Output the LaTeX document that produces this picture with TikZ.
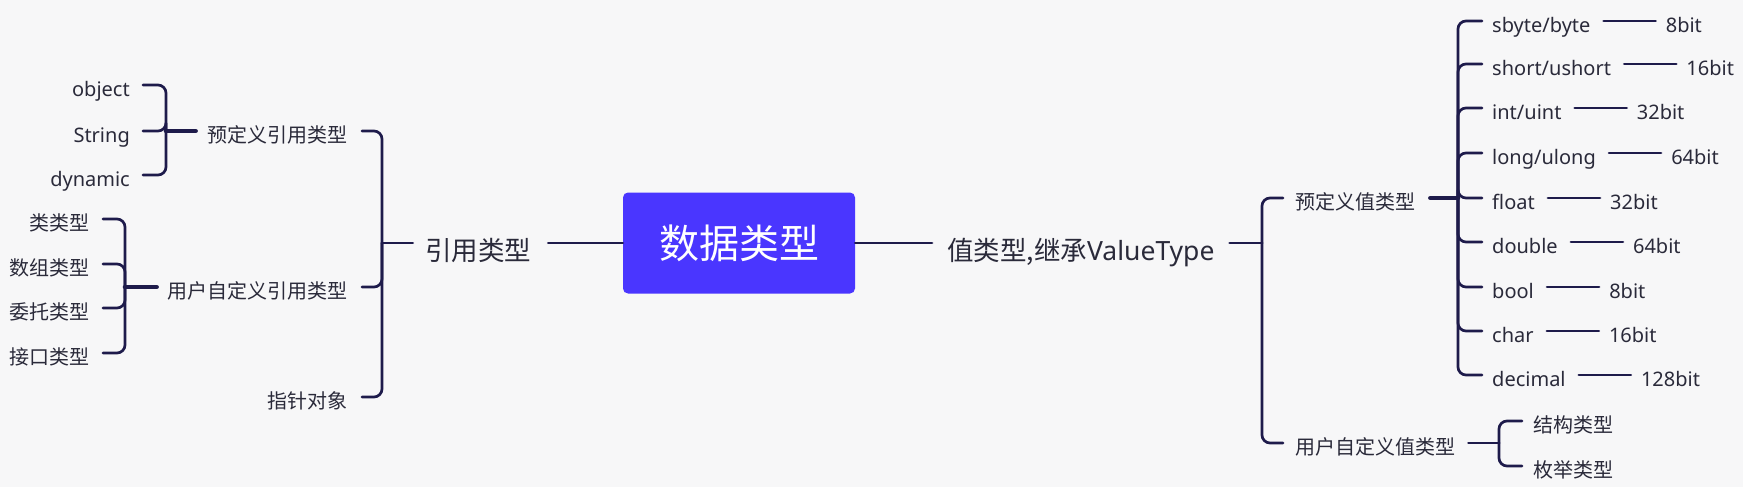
\documentclass[tikz,border=0pt]{standalone}
\usepackage{fontspec}
\setmainfont{Noto Sans}
\newfontfamily\cjk{Noto Sans CJK SC}
\definecolor{bg}{HTML}{F7F7F8}
\definecolor{linec}{HTML}{1E1B4B}
\definecolor{txt}{HTML}{2A2A3A}
\definecolor{rootc}{HTML}{4A36FF}
\tikzset{
  lab/.style={inner sep=0pt, text=txt, text height=23pt, text depth=0pt, font=\fontsize{20pt}{24pt}\selectfont},
  lone/.style={inner sep=0pt, text=txt, text height=34pt, text depth=0pt, font=\fontsize{26.5pt}{30pt}\selectfont},
  rootbox/.style={fill=rootc, rounded corners=5pt, minimum width=232pt, minimum height=101pt, inner sep=0pt, text=white, font=\fontsize{40pt}{46pt}\selectfont\cjk},
  conn/.style={draw=linec, line width=2.7pt, line cap=round},
  fork/.style={conn, rounded corners=8pt},
  heavy/.style={conn, line width=4.6pt},
}
\begin{document}
\begin{tikzpicture}[x=1pt,y=-1pt]
\fill[bg] (0,0) rectangle (1743,487);
\useasboundingbox (0,0) rectangle (1743,487);

% root
\node[rootbox] (root) at (739,243) {数据类型};

% ---------- left: reference types
\node[lone, anchor=center] (yy) at (478,243) {\cjk 引用类型};
\coordinate (bL) at (382,243);
\node[lab, anchor=east] (pre) at (348,131) {\cjk 预定义引用类型};
\node[lab, anchor=east] (usr) at (348,287) {\cjk 用户自定义引用类型};
\node[lab, anchor=east] (ptr) at (348,397) {\cjk 指针对象};

\coordinate (bA) at (166,131);
\node[lab, anchor=east] (obj) at (130,85) {object};
\node[lab, anchor=east] (str) at (130,131) {String};
\node[lab, anchor=east] (dyn) at (130,175) {dynamic};

\coordinate (bB) at (125,287);
\node[lab, anchor=east] (lei) at (90,219) {\cjk 类类型};
\node[lab, anchor=east] (shu) at (90,264) {\cjk 数组类型};
\node[lab, anchor=east] (wei) at (90,308) {\cjk 委托类型};
\node[lab, anchor=east] (jie) at (90,353) {\cjk 接口类型};

\draw[conn] ([xshift=17pt]yy.east) -- (root.west);
\draw[conn] ([xshift=-12pt]yy.west) -- (bL);
\foreach \c in {pre,usr,ptr} \draw[fork] (bL) |- ([xshift=14pt]\c.east);
\draw[heavy] ([xshift=-12pt]pre.west) -- (bA);
\foreach \c in {obj,str,dyn} \draw[fork] (bA) |- ([xshift=13pt]\c.east);
\draw[heavy] ([xshift=-11pt]usr.west) -- (bB);
\foreach \c in {lei,shu,wei,jie} \draw[fork] (bB) |- ([xshift=13pt]\c.east);

% ---------- right: value types
\node[lone, anchor=west] (zhi) at (947,243) {{\cjk 值类型,继承}ValueType};
\coordinate (bR) at (1262,243);
\node[lab, anchor=west] (pv) at (1295,198) {\cjk 预定义值类型};
\node[lab, anchor=west] (uv) at (1295,443) {\cjk 用户自定义值类型};
\draw[conn] (root.east) -- ([xshift=-15pt]zhi.west);
\draw[conn] ([xshift=15pt]zhi.east) -- (bR);
\foreach \c in {pv,uv} \draw[fork] (bR) |- ([xshift=-12pt]\c.west);

\coordinate (bV) at (1458,198);
\node[lab, anchor=west] (v1) at (1492,21) {sbyte/byte};
\node[lab, anchor=west] (v2) at (1492,64) {short/ushort};
\node[lab, anchor=west] (v3) at (1492,108) {int/uint};
\node[lab, anchor=west] (v4) at (1492,153) {long/ulong};
\node[lab, anchor=west] (v5) at (1492,198) {float};
\node[lab, anchor=west] (v6) at (1492,242) {double};
\node[lab, anchor=west] (v7) at (1492,287) {bool};
\node[lab, anchor=west] (v8) at (1492,331) {char};
\node[lab, anchor=west] (v9) at (1492,375) {decimal};
\node[lab, anchor=west] (w1) at ([xshift=75pt]v1.east) {8bit};
\node[lab, anchor=west] (w2) at ([xshift=75pt]v2.east) {16bit};
\node[lab, anchor=west] (w3) at ([xshift=75pt]v3.east) {32bit};
\node[lab, anchor=west] (w4) at ([xshift=75pt]v4.east) {64bit};
\node[lab, anchor=west] (w5) at ([xshift=75pt]v5.east) {32bit};
\node[lab, anchor=west] (w6) at ([xshift=75pt]v6.east) {64bit};
\node[lab, anchor=west] (w7) at ([xshift=75pt]v7.east) {8bit};
\node[lab, anchor=west] (w8) at ([xshift=75pt]v8.east) {16bit};
\node[lab, anchor=west] (w9) at ([xshift=75pt]v9.east) {128bit};

\draw[heavy] ([xshift=15pt]pv.east) -- (bV);
\foreach \i in {1,...,9} {
  \draw[fork] (bV) |- ([xshift=-10pt]v\i.west);
  \draw[conn] ([xshift=13pt]v\i.east) -- ([xshift=-10pt]w\i.west);
}

\coordinate (bU) at (1499,443);
\node[lab, anchor=west] (st) at (1533,421) {\cjk 结构类型};
\node[lab, anchor=west] (en) at (1533,466) {\cjk 枚举类型};
\draw[conn] ([xshift=13pt]uv.east) -- (bU);
\foreach \c in {st,en} \draw[fork] (bU) |- ([xshift=-11pt]\c.west);
\end{tikzpicture}
\end{document}
